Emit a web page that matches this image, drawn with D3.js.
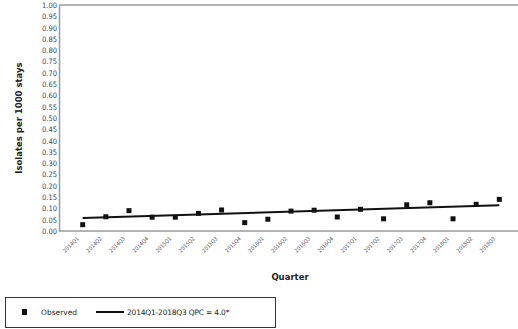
<!DOCTYPE html>
<html>
<head>
<meta charset="utf-8">
<script src="https://cdn.jsdelivr.net/npm/d3@7"></script>
<style>
  body { margin: 0; background: #fff; }
  svg { display: block; font-family: "DejaVu Sans", Verdana, sans-serif; }
</style>
</head>
<body>
<svg id="chart" width="518" height="329"></svg>
<script>
// Quarters on the x axis
var quarters = ['2014Q1', '2014Q2', '2014Q3', '2014Q4', '2015Q1', '2015Q2', '2015Q3',
  '2015Q4', '2016Q1', '2016Q2', '2016Q3', '2016Q4', '2017Q1', '2017Q2', '2017Q3',
  '2017Q4', '2018Q1', '2018Q2', '2018Q3'];

// Observed isolates per 1000 stays
var observed = [0.028, 0.063, 0.090, 0.061, 0.061, 0.078, 0.093, 0.037, 0.052, 0.088,
  0.092, 0.062, 0.096, 0.054, 0.116, 0.125, 0.054, 0.118, 0.140];

// Fitted segment 2014Q1-2018Q3 (start and end values)
var fitQuarters = ['2014Q1', '2018Q3'];
var fitValues = [0.057, 0.114];

var yTicks = d3.range(0, 21).map(function(i) { return i / 20; });

var svg = d3.select('#chart');
var plotLeft = 59, plotRight = 518, plotTop = 5, plotBottom = 231;

var x = d3.scalePoint()
  .domain(quarters)
  .range([82.7, 499.3]);

var y = d3.scaleLinear()
  .domain([0, 1])
  .range([plotBottom, plotTop]);

// frame top line
svg.append('line')
  .attr('x1', plotLeft).attr('x2', plotRight).attr('y1', plotTop).attr('y2', plotTop)
  .attr('stroke', '#9a9a9a').attr('stroke-width', 1.5);

// y axis
var yAxis = svg.append('g')
  .attr('transform', 'translate(' + plotLeft + ',0)')
  .call(d3.axisLeft(y).tickValues(yTicks).tickSize(0).tickPadding(2)
    .tickFormat(d3.format('.2f')));
yAxis.select('.domain').attr('stroke', '#9a9a9a').attr('stroke-width', 1.5);
yAxis.selectAll('text')
  .attr('fill', '#3a4664')
  .style('font-size', '7.5px')
  .style('font-family', '"DejaVu Sans Condensed", "DejaVu Sans", sans-serif');

// x axis
var xAxis = svg.append('g')
  .attr('transform', 'translate(0,' + plotBottom + ')')
  .call(d3.axisBottom(x).tickSize(0).tickPadding(0));
xAxis.select('.domain').remove();
xAxis.append('line')
  .attr('x1', plotLeft).attr('x2', plotRight).attr('y1', 0).attr('y2', 0)
  .attr('stroke', '#9a9a9a').attr('stroke-width', 1.5);
xAxis.selectAll('.tick text')
  .attr('fill', '#5a5a6a')
  .style('font-size', '5.5px')
  .style('font-family', '"DejaVu Sans Condensed", "DejaVu Sans", sans-serif')
  .attr('text-anchor', 'end')
  .attr('y', 0)
  .attr('dy', '0')
  .attr('transform', 'translate(-4,8) rotate(-45)');

// fitted line
svg.append('path')
  .datum(fitQuarters.map(function(q, i) { return {q: q, v: fitValues[i]}; }))
  .attr('fill', 'none')
  .attr('stroke', '#111')
  .attr('stroke-width', 2)
  .attr('d', d3.line()
    .x(function(d) { return x(d.q); })
    .y(function(d) { return y(d.v); }));

// observed points
svg.append('g').selectAll('rect')
  .data(quarters.map(function(q, i) { return {q: q, v: observed[i]}; }))
  .enter().append('rect')
  .attr('x', function(d) { return x(d.q) - 2.5; })
  .attr('y', function(d) { return y(d.v) - 2.5; })
  .attr('width', 5)
  .attr('height', 5)
  .attr('fill', '#111');

// axis titles
svg.append('text')
  .attr('transform', 'translate(22,118) rotate(-90)')
  .attr('text-anchor', 'middle')
  .style('font-size', '8.5px')
  .style('font-weight', 'bold')
  .attr('fill', '#222')
  .text('Isolates per 1000 stays');

svg.append('text')
  .attr('x', 290)
  .attr('y', 280)
  .attr('text-anchor', 'middle')
  .style('font-size', '8.5px')
  .style('font-weight', 'bold')
  .attr('fill', '#222')
  .text('Quarter');

// legend
var legend = svg.append('g');
legend.append('rect')
  .attr('x', 5.5).attr('y', 297.5).attr('width', 270).attr('height', 30)
  .attr('fill', 'none').attr('stroke', '#333').attr('stroke-width', 1);
legend.append('rect')
  .attr('x', 22).attr('y', 309).attr('width', 5).attr('height', 6)
  .attr('fill', '#111');
legend.append('text')
  .attr('x', 41).attr('y', 315)
  .style('font-size', '7.5px')
  .attr('fill', '#222')
  .text('Observed');
legend.append('line')
  .attr('x1', 96).attr('x2', 124).attr('y1', 312).attr('y2', 312)
  .attr('stroke', '#111').attr('stroke-width', 2);
legend.append('text')
  .attr('x', 127).attr('y', 315)
  .style('font-size', '7.5px')
  .style('letter-spacing', '-0.2px')
  .attr('fill', '#222')
  .text('2014Q1-2018Q3 QPC = 4.0*');
</script>
</body>
</html>
